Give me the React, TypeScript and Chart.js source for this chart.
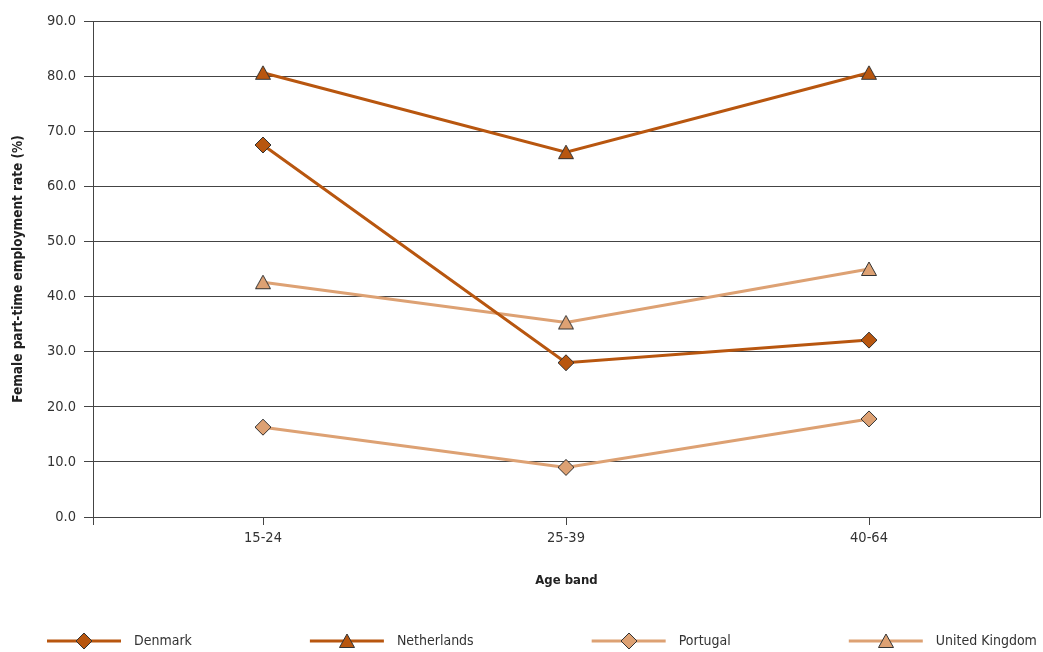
import React, { useEffect, useRef } from 'react';
import { Chart, registerables } from 'chart.js';

Chart.register(...registerables);

const categories = ['15-24', '25-39', '40-64'];
const denmark = [67.5, 28.0, 32.1];
const netherlands = [80.6, 66.2, 80.6];
const portugal = [16.3, 9.0, 17.8];
const unitedKingdom = [42.6, 35.3, 45.0];
const yTickValues = [0, 10, 20, 30, 40, 50, 60, 70, 80, 90];

const DARK = '#B8560F';
const LIGHT = '#DDA173';
const EDGE = '#333333';
const GRID = '#444444';
const TEXT = '#333333';
const FONT = "'Liberation Sans Narrow', 'DejaVu Sans Condensed', 'Roboto Condensed', 'Noto Sans', sans-serif";

function makeMarker(kind: 'diamond' | 'triangle', fill: string): HTMLCanvasElement {
  const c = document.createElement('canvas');
  const ctx = c.getContext('2d')!;
  if (kind === 'diamond') {
    c.width = 18; c.height = 18;
    ctx.beginPath();
    ctx.moveTo(9, 1);
    ctx.lineTo(17, 9);
    ctx.lineTo(9, 17);
    ctx.lineTo(1, 9);
    ctx.closePath();
  } else {
    c.width = 18; c.height = 16;
    ctx.beginPath();
    ctx.moveTo(9, 1);
    ctx.lineTo(16.5, 14.5);
    ctx.lineTo(1.5, 14.5);
    ctx.closePath();
  }
  ctx.fillStyle = fill;
  ctx.fill();
  ctx.lineWidth = 1;
  ctx.strokeStyle = EDGE;
  ctx.stroke();
  return c;
}

const legendPlugin = {
  id: 'lineMarkerLegend',
  afterDraw(chart: any) {
    const ctx = chart.ctx as CanvasRenderingContext2D;
    ctx.save();
    ctx.font = `14px ${FONT}`;
    ctx.textBaseline = 'middle';
    ctx.textAlign = 'left';
    let x = 47;
    const y = 641;
    chart.data.datasets.forEach((ds: any) => {
      ctx.strokeStyle = ds.borderColor;
      ctx.lineWidth = 3;
      ctx.beginPath();
      ctx.moveTo(x, y);
      ctx.lineTo(x + 74, y);
      ctx.stroke();
      const img = ds.pointStyle as HTMLCanvasElement;
      ctx.drawImage(img, Math.round(x + 37 - img.width / 2), Math.round(y - img.height / 2));
      ctx.fillStyle = TEXT;
      ctx.fillText(ds.label, x + 87, y);
      x += 87 + ctx.measureText(ds.label).width + 118;
    });
    ctx.restore();
  },
};

export default function App() {
  const ref = useRef<HTMLCanvasElement | null>(null);

  useEffect(() => {
    if (!ref.current) return;
    const toPoints = (arr: number[]) => arr.map((v, i) => ({ x: i, y: v }));
    const xMin = -170 / 303;
    const xMax = 2 + 171 / 303;

    const mk = (label: string, data: number[], color: string, kind: 'diamond' | 'triangle') => ({
      label,
      data: toPoints(data),
      borderColor: color,
      backgroundColor: color,
      borderWidth: 3,
      pointStyle: makeMarker(kind, color),
      pointRadius: 8,
      pointHoverRadius: 8,
      pointBorderWidth: 1,
      tension: 0,
    });

    const chart = new Chart(ref.current, {
      type: 'line',
      data: {
        datasets: [
          mk('Denmark', denmark, DARK, 'diamond'),
          mk('Netherlands', netherlands, DARK, 'triangle'),
          mk('Portugal', portugal, LIGHT, 'diamond'),
          mk('United Kingdom', unitedKingdom, LIGHT, 'triangle'),
        ] as any,
      },
      options: {
        responsive: false,
        animation: false,
        layout: { autoPadding: false, padding: { left: 0, right: 0, top: 21, bottom: 40 } },
        plugins: {
          legend: { display: false },
          tooltip: { enabled: false },
        },
        font: { family: FONT } as any,
        scales: {
          x: {
            type: 'linear',
            position: 'bottom',
            min: xMin,
            max: xMax,
            afterBuildTicks: (scale: any) => {
              scale.ticks = [{ value: xMin }, ...categories.map((_, i) => ({ value: i }))];
            },
            afterFit: (scale: any) => {
              scale.height = 95;
            },
            ticks: {
              autoSkip: false,
              maxRotation: 0,
              padding: 5,
              color: TEXT,
              font: { family: FONT, size: 14.5 },
              callback: (v: any) => (Number.isInteger(v) ? categories[v] : ''),
            },
            grid: {
              drawOnChartArea: false,
              drawTicks: true,
              tickLength: 8,
              color: GRID,
            },
            border: { display: true, color: GRID, width: 1 },
            title: {
              display: true,
              text: 'Age band',
              color: '#222',
              font: { family: FONT, size: 13, weight: 'bold' },
              padding: { top: 0, bottom: 24 },
            },
          },
          y: {
            type: 'linear',
            position: 'left',
            min: 0,
            max: 90,
            afterBuildTicks: (scale: any) => {
              scale.ticks = yTickValues.map((v) => ({ value: v }));
            },
            afterFit: (scale: any) => {
              scale.width = 93;
            },
            ticks: {
              padding: 8,
              color: TEXT,
              font: { family: FONT, size: 14.5 },
              callback: (v: any) => Number(v).toFixed(1),
            },
            grid: {
              color: GRID,
              lineWidth: 1,
              tickLength: 9,
              drawTicks: true,
            },
            border: { display: true, color: GRID, width: 1 },
            title: {
              display: true,
              text: 'Female part-time employment rate (%)',
              color: '#222',
              font: { family: FONT, size: 13.5, weight: 'bold' },
              padding: { top: 10, bottom: 0 },
            },
          },
          y2: {
            type: 'linear',
            position: 'right',
            min: 0,
            max: 90,
            afterFit: (scale: any) => {
              scale.width = 3;
            },
            ticks: { display: false },
            grid: { display: false },
            border: { display: true, color: GRID, width: 1 },
          },
        } as any,
      },
      plugins: [legendPlugin],
    });

    return () => chart.destroy();
  }, []);

  return (
    <div style={{ position: 'absolute', left: 0, top: 0, width: 1043, height: 652 }}>
      <canvas ref={ref} width={1043} height={652} />
    </div>
  );
}
